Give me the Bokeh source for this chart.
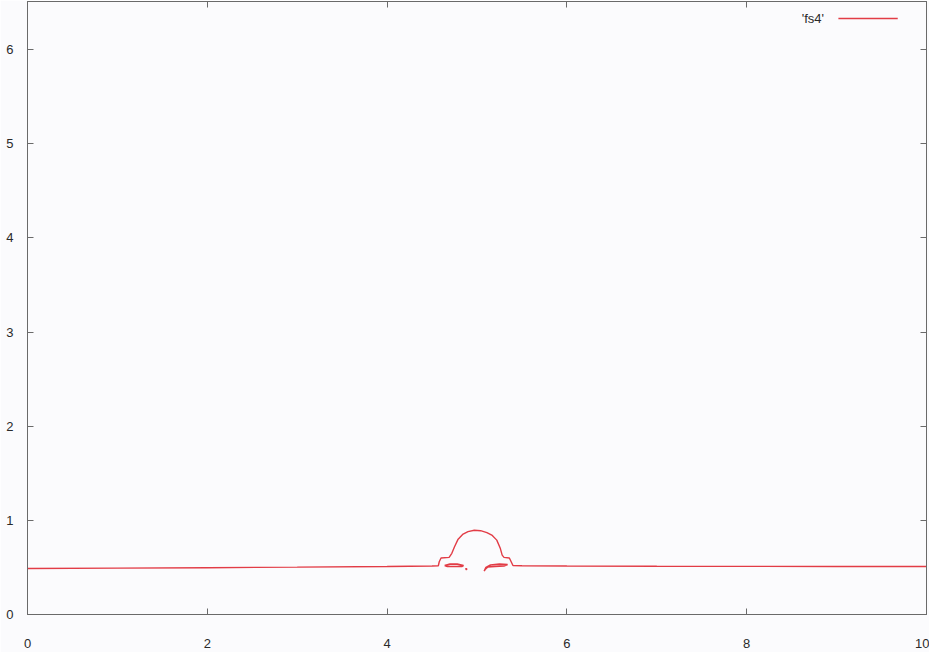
from bokeh.plotting import figure
from bokeh.models import LinearAxis, FixedTicker, Range1d, Label
from bokeh.embed import file_html
from bokeh.resources import INLINE

# ---- data ----
series_name = "'fs4'"
# free-surface profile (x, y)
surface_x = [0.0, 1.0, 2.0, 3.0, 4.0, 4.5, 4.57, 4.58, 4.60, 4.69, 4.72, 4.75, 4.79, 4.84,
             4.90, 4.97, 5.04, 5.11, 5.17, 5.22, 5.26, 5.28, 5.30, 5.36, 5.38, 5.40, 5.5,
             6.0, 7.0, 8.0, 9.0, 10.0]
surface_y = [0.488, 0.492, 0.497, 0.503, 0.510, 0.515, 0.518, 0.56, 0.60, 0.607, 0.65, 0.72,
             0.80, 0.85, 0.88, 0.895, 0.89, 0.87, 0.84, 0.79, 0.70, 0.63, 0.607, 0.60, 0.56,
             0.52, 0.518, 0.515, 0.512, 0.511, 0.510, 0.510]
# small closed contours under the bump
drop1_x = [4.64, 4.70, 4.78, 4.85, 4.83, 4.75, 4.67, 4.64]
drop1_y = [0.52, 0.535, 0.535, 0.52, 0.51, 0.51, 0.51, 0.52]
drop2_x = [4.875, 4.885, 4.885, 4.875, 4.875]
drop2_y = [0.478, 0.478, 0.486, 0.486, 0.478]
drop3_x = [5.08, 5.10, 5.15, 5.25, 5.34, 5.30, 5.20, 5.12, 5.09, 5.08]
drop3_y = [0.46, 0.50, 0.525, 0.535, 0.53, 0.515, 0.51, 0.505, 0.48, 0.46]

x_ticks = [0, 2, 4, 6, 8, 10]
y_ticks = [0, 1, 2, 3, 4, 5, 6]
x_min, x_max = 0, 10
y_min, y_max = 0, 6.51

RED = "#e23c46"
FRAME = "#6a6a6a"
BG = "#fbfbfd"
FONT = "Liberation Sans"

p = figure(width=929, height=652, output_backend="svg", toolbar_location=None,
           x_range=Range1d(x_min, x_max), y_range=Range1d(y_min, y_max),
           x_axis_location=None, y_axis_location=None,
           min_border_left=27, min_border_right=3, min_border_top=1, min_border_bottom=38)
p.background_fill_color = BG
p.border_fill_color = BG
p.grid.visible = False
p.outline_line_color = FRAME
p.outline_line_width = 1


def make_axis(show_labels):
    ax = LinearAxis()
    ax.ticker = FixedTicker(ticks=x_ticks)
    ax.axis_line_color = FRAME
    ax.major_tick_line_color = FRAME
    ax.major_tick_in = 6
    ax.major_tick_out = 0
    ax.minor_tick_line_color = None
    ax.major_label_text_font = FONT
    ax.major_label_text_font_size = "13px" if show_labels else "0px"
    ax.major_label_text_color = "#2a2a2a" if show_labels else None
    ax.major_label_standoff = 0
    return ax


xb = make_axis(True)
xb.ticker = FixedTicker(ticks=x_ticks)
xb.major_label_standoff = 24
p.add_layout(xb, "below")
xt = make_axis(False)
xt.ticker = FixedTicker(ticks=x_ticks)
p.add_layout(xt, "above")
yl = make_axis(True)
yl.ticker = FixedTicker(ticks=y_ticks)
yl.major_label_standoff = 14
p.add_layout(yl, "left")
yr = make_axis(False)
yr.ticker = FixedTicker(ticks=y_ticks)
p.add_layout(yr, "right")

p.line(surface_x, surface_y, line_color=RED, line_width=1.4)
p.multi_line([drop1_x, drop2_x, drop3_x], [drop1_y, drop2_y, drop3_y],
             line_color=RED, line_width=1.6)

# gnuplot-style key: text then sample line (top right)
key_y = 6.33
p.line([9.02, 9.68], [key_y, key_y], line_color=RED, line_width=1.4)
p.add_layout(Label(x=8.86, y=key_y, text=series_name, text_align="right",
                   text_baseline="middle", text_font=FONT, text_font_size="13px",
                   text_color="#2a2a2a"))

open("out.html", "w").write(file_html(p, INLINE))
